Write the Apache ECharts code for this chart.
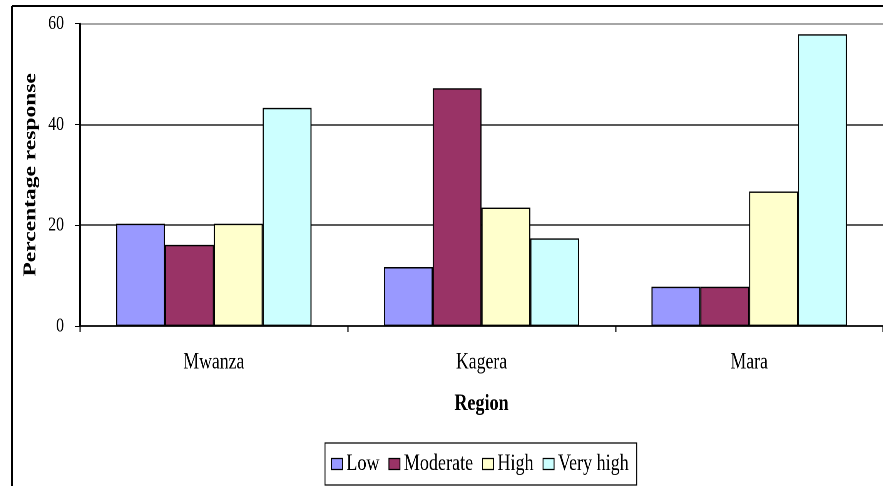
<!DOCTYPE html>
<html><head><meta charset="utf-8">
<script src="https://cdn.jsdelivr.net/npm/echarts@6/dist/echarts.min.js"></script>
<style>
html,body{margin:0;padding:0;background:#fff}
#wrap{width:883px;height:486px;overflow:hidden;position:relative}
#c{width:1147px;height:486px;transform:scaleX(0.76983);transform-origin:0 0;position:absolute;left:0;top:0}
</style>
</head><body><div id="wrap"><div id="c"></div></div>
<script>
var categories = ['Mwanza', 'Kagera', 'Mara'];
var seriesNames = ['Low', 'Moderate', 'High', 'Very high'];
var lowVals = [20.3, 11.7, 7.8];
var moderateVals = [16.1, 47.2, 7.8];
var highVals = [20.3, 23.5, 26.7];
var veryHighVals = [43.3, 17.4, 57.9];
var yTicks = [0, 20, 40, 60];
var colors = ['#9999FF', '#993366', '#FFFFCC', '#CCFFFF'];
var allVals = [lowVals, moderateVals, highVals, veryHighVals];

// the reference text is horizontally condensed; the chart is drawn wider and squeezed
var S = 883 / 1147;
function X(px) { return px / S; }

var font = 'Liberation Serif';
var chart = echarts.init(document.getElementById('c'), null, { renderer: 'canvas', width: 1147, height: 486, devicePixelRatio: 2 });
chart.setOption({
  animation: false,
  textStyle: { fontFamily: font },
  grid: { left: X(80), right: 0, top: 23.7, bottom: 160, containLabel: false },
  graphic: [
    { type: 'line', shape: { x1: X(12), y1: 6, x2: 1147, y2: 6 }, style: { stroke: '#000', lineWidth: 2 } },
    { type: 'line', shape: { x1: X(12), y1: 6, x2: X(12), y2: 486 }, style: { stroke: '#000', lineWidth: 2.6 } }
  ],
  legend: {
    data: seriesNames,
    left: X(325), top: 443,
    padding: [9, X(8), 9, X(6)],
    borderColor: '#000', borderWidth: 1.2,
    itemWidth: X(11), itemHeight: 11, itemGap: X(9),
    icon: 'rect',
    itemStyle: { borderColor: '#000', borderWidth: 1.2 },
    textStyle: { fontFamily: font, fontSize: 23.5, color: '#000', lineHeight: 23 }
  },
  xAxis: {
    type: 'category', data: categories,
    name: 'Region', nameLocation: 'middle', nameGap: 66,
    nameTextStyle: { fontFamily: font, fontSize: 23.5, fontWeight: 'bold', color: '#000' },
    axisLine: { lineStyle: { color: '#000', width: 1.5 } },
    axisTick: { show: true, length: 6, lineStyle: { color: '#000', width: 1.5 } },
    axisLabel: { fontFamily: font, fontSize: 23, color: '#000', margin: 25 }
  },
  yAxis: {
    type: 'value', min: yTicks[0], max: yTicks[yTicks.length - 1], interval: yTicks[1] - yTicks[0],
    name: 'Percentage response', nameLocation: 'middle', nameGap: 50,
    nameTextStyle: { fontFamily: font, fontSize: 23.5, fontWeight: 'bold', color: '#000' },
    axisLine: { show: true, lineStyle: { color: '#000', width: 2 } },
    axisTick: { show: true, length: X(5), lineStyle: { color: '#000' } },
    axisLabel: { fontFamily: font, fontSize: 20.5, color: '#000', margin: X(16) },
    splitLine: { show: true, lineStyle: { color: ['#000', '#222', '#222', '#888'], width: 1.6 } }
  },
  series: seriesNames.map(function (n, i) {
    return {
      name: n, type: 'bar', data: allVals[i],
      barGap: '0%', barCategoryGap: '27%',
      itemStyle: { color: colors[i], borderColor: '#000', borderWidth: 1.4 }
    };
  })
});
</script></body></html>
